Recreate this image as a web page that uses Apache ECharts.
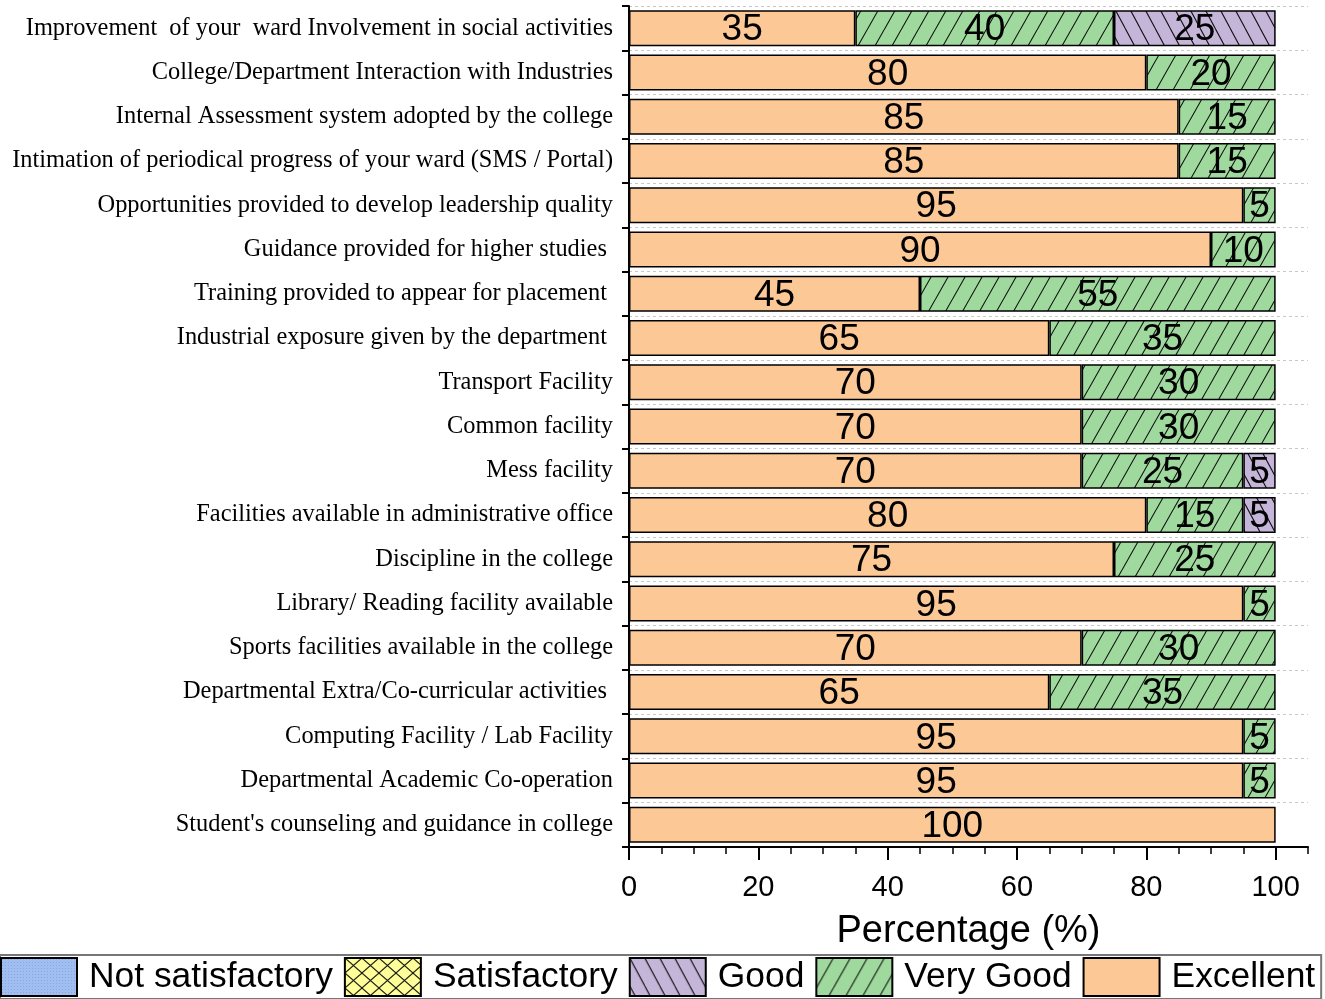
<!DOCTYPE html>
<html>
<head>
<meta charset="utf-8">
<script src="https://cdn.jsdelivr.net/npm/echarts@6/dist/echarts.min.js"></script>
<style>
  html, body { margin: 0; padding: 0; background: #fff; }
  #chart { width: 1325px; height: 999px; }
</style>
</head>
<body>
<div id="chart"></div>
<script>
// ---------- data ----------
const categories = [
  "Improvement  of your  ward Involvement in social activities",
  "College/Department Interaction with Industries",
  "Internal Assessment system adopted by the college",
  "Intimation of periodical progress of your ward (SMS / Portal)",
  "Opportunities provided to develop leadership quality",
  "Guidance provided for higher studies ",
  "Training provided to appear for placement ",
  "Industrial exposure given by the department ",
  "Transport Facility",
  "Common facility",
  "Mess facility",
  "Facilities available in administrative office",
  "Discipline in the college",
  "Library/ Reading facility available",
  "Sports facilities available in the college",
  "Departmental Extra/Co-curricular activities ",
  "Computing Facility / Lab Facility",
  "Departmental Academic Co-operation",
  "Student's counseling and guidance in college"
];
const excellent       = [35, 80, 85, 85, 95, 90, 45, 65, 70, 70, 70, 80, 75, 95, 70, 65, 95, 95, 100];
const veryGood        = [40, 20, 15, 15, 5, 10, 55, 35, 30, 30, 25, 15, 25, 5, 30, 35, 5, 5, 0];
const good            = [25, 0, 0, 0, 0, 0, 0, 0, 0, 0, 5, 5, 0, 0, 0, 0, 0, 0, 0];
const satisfactory    = [0, 0, 0, 0, 0, 0, 0, 0, 0, 0, 0, 0, 0, 0, 0, 0, 0, 0, 0];
const notSatisfactory = [0, 0, 0, 0, 0, 0, 0, 0, 0, 0, 0, 0, 0, 0, 0, 0, 0, 0, 0];
const xTickValues = [0, 20, 40, 60, 80, 100];
const legendOrder = ["Not satisfactory", "Satisfactory", "Good", "Very Good", "Excellent"];

// ---------- patterns ----------
function hatch(bg, w, h, kind) {
  const c = document.createElement('canvas');
  c.width = w; c.height = h;
  const g = c.getContext('2d');
  g.fillStyle = bg; g.fillRect(0, 0, w, h);
  g.strokeStyle = '#111'; g.lineWidth = 1.1;
  g.beginPath();
  for (let k = -1; k <= 1; k++) {
    if (kind === 'fwd' || kind === 'cross') { g.moveTo(k * w, h); g.lineTo((k + 1) * w, 0); }
    if (kind === 'back' || kind === 'cross') { g.moveTo(k * w, 0); g.lineTo((k + 1) * w, h); }
  }
  g.stroke();
  return { image: c, repeat: 'repeat' };
}
function dots(bg) {
  const c = document.createElement('canvas');
  c.width = 3; c.height = 3;
  const g = c.getContext('2d');
  g.fillStyle = bg; g.fillRect(0, 0, 3, 3);
  g.fillStyle = 'rgba(120,150,220,0.6)'; g.fillRect(1, 1, 1, 1);
  return { image: c, repeat: 'repeat' };
}

const fills = {
  "Excellent": '#FCC896',
  "Very Good": hatch('#9FD99D', 17, 30, 'fwd'),
  "Good": hatch('#C4B5D9', 15, 28, 'back'),
  "Satisfactory": hatch('#FFFF99', 17, 15, 'cross'),
  "Not satisfactory": dots('#A0BEF0')
};

const seriesData = [
  ["Excellent", excellent],
  ["Very Good", veryGood],
  ["Good", good],
  ["Satisfactory", satisfactory],
  ["Not satisfactory", notSatisfactory]
];

const chart = echarts.init(document.getElementById('chart'));
chart.setOption({
  animation: false,
  backgroundColor: '#fff',
  grid: { left: 629, right: 17, top: 6, bottom: 152 },
  legend: {
    data: legendOrder,
    left: 0, top: 955,
    icon: 'rect',
    itemWidth: 76, itemHeight: 38, itemGap: 11,
    padding: [2, 6, 2, 0],
    borderColor: '#777', borderWidth: 2,
    textStyle: { fontFamily: 'Liberation Sans', fontSize: 35.4, color: '#000', padding: [0, 0, 0, 7] }
  },
  xAxis: [
    {
      type: 'value', min: 0, max: 105, interval: 5,
      axisLine: { show: true, lineStyle: { color: '#000', width: 2 } },
      axisTick: { show: true, length: 7, lineStyle: { color: '#000', width: 1.5 } },
      axisLabel: { show: false },
      splitLine: { show: false }
    },
    {
      type: 'value', min: 0, max: 105, position: 'bottom',
      axisLine: { show: false },
      axisTick: { show: true, length: 13, customValues: xTickValues, lineStyle: { color: '#000', width: 2 } },
      axisLabel: { show: true, customValues: xTickValues, fontFamily: 'Liberation Sans', fontSize: 29, color: '#000', margin: 26 },
      splitLine: { show: false },
      name: 'Percentage (%)', nameLocation: 'middle', nameGap: 66,
      nameTextStyle: { fontFamily: 'Liberation Sans', fontSize: 38, color: '#000' }
    }
  ],
  yAxis: {
    type: 'category', inverse: true, data: categories,
    axisLine: { show: true, lineStyle: { color: '#000', width: 2 } },
    axisTick: { show: true, length: 7, lineStyle: { color: '#000', width: 2 } },
    axisLabel: { fontFamily: 'Liberation Serif', fontSize: 24.4, color: '#000', margin: 16, padding: [3, 0, 0, 0] },
    splitLine: { show: true, lineStyle: { color: '#c8c8c8', width: 1, type: [3, 3] } }
  },
  series: seriesData.map(([name, vals]) => ({
    name, type: 'bar', stack: 'total', barWidth: 36, xAxisIndex: 0,
    data: vals.map(v => (v === 0 ? null : v)),
    itemStyle: { color: fills[name], borderColor: '#000', borderWidth: 1.5 },
    label: {
      show: true, position: 'inside', color: '#000', offset: [0, 2],
      fontFamily: 'Liberation Sans', fontSize: 37,
      formatter: p => (p.value ? String(p.value) : '')
    }
  }))
});
</script>
</body>
</html>
